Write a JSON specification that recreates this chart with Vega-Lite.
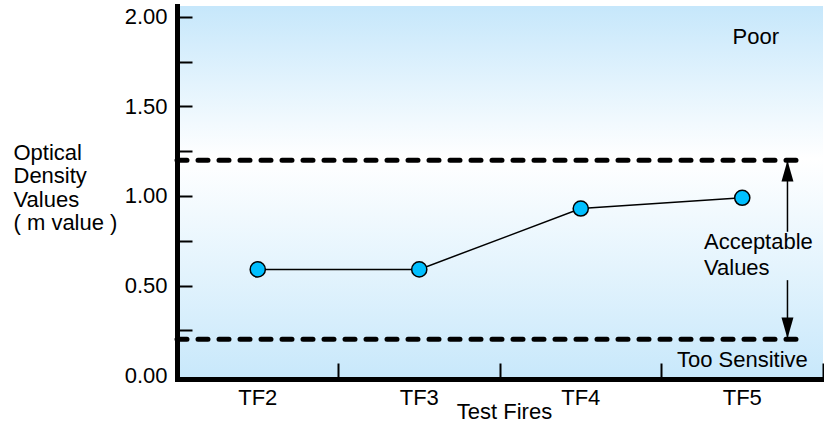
{
  "$schema": "https://vega.github.io/schema/vega-lite/v6.json",
  "width": 646,
  "height": 373,
  "autosize": "none",
  "padding": {"left": 177, "top": 6, "right": 1, "bottom": 44},
  "background": "white",
  "config": {
    "view": {"stroke": null},
    "font": "Liberation Sans",
    "axis": {"labelFont": "Liberation Sans", "titleFont": "Liberation Sans", "labelColor": "black", "titleColor": "black", "grid": false}
  },
  "datasets": {
    "tests": [
      {"fire": "TF2", "m": 0.59},
      {"fire": "TF3", "m": 0.59},
      {"fire": "TF4", "m": 0.93},
      {"fire": "TF5", "m": 0.99}
    ]
  },
  "data": {"name": "tests"},
  "layer": [
    {
      "data": {"values": [{}]},
      "mark": {
        "type": "rect",
        "fill": {
          "gradient": "linear", "x1": 0, "y1": 0, "x2": 0, "y2": 1,
          "stops": [
            {"offset": 0, "color": "#c6e7fb"},
            {"offset": 0.41, "color": "#ffffff"},
            {"offset": 1, "color": "#c8e8fb"}
          ]
        }
      },
      "encoding": {
        "y": {"datum": 2.061, "type": "quantitative", "axis": null},
        "y2": {"datum": -0.022}
      }
    },
    {
      "data": {"values": [{"limit": 1.2}, {"limit": 0.2}]},
      "mark": {"type": "rule", "color": "black", "strokeWidth": 5, "strokeDash": [10, 11], "strokeCap": "round"},
      "encoding": {
        "x": {"datum": "TF2", "type": "nominal", "bandPosition": 0, "axis": null},
        "x2": {"datum": "TF5", "bandPosition": 0.9},
        "y": {"field": "limit", "type": "quantitative", "axis": null}
      }
    },
    {
      "mark": {"type": "line", "color": "black", "strokeWidth": 1.5},
      "encoding": {
        "x": {
          "field": "fire", "type": "nominal",
          "scale": {"type": "band", "paddingInner": 0, "paddingOuter": 0, "domain": ["TF2", "TF3", "TF4", "TF5"]},
          "axis": {"orient": "top", "offset": -373, "bandPosition": 1, "labels": false, "domain": false, "ticks": true, "tickSize": 16, "tickWidth": 2, "tickColor": "black", "title": null, "zindex": 1}
        },
        "y": {
          "field": "m", "type": "quantitative",
          "scale": {"domain": [-0.022, 2.061], "nice": false, "zero": false},
          "axis": {"orient": "right", "offset": -646, "values": [0.25, 0.5, 0.75, 1, 1.25, 1.5, 1.75, 2], "labels": false, "domain": false, "ticks": true, "tickSize": 15, "tickWidth": 2, "tickColor": "black", "title": null, "zindex": 1}
        }
      }
    },
    {
      "mark": {"type": "circle", "fill": "#00bfff", "stroke": "black", "strokeWidth": 1.5, "size": 230, "opacity": 1},
      "encoding": {
        "x": {
          "field": "fire", "type": "nominal",
          "axis": {"orient": "bottom", "ticks": false, "labelPadding": 8, "labelFontSize": 22, "labelAngle": 0, "domainColor": "black", "domainWidth": 5, "domainCap": "square", "title": "Test Fires", "titleFontSize": 22, "titleFontWeight": "normal", "titleX": 327, "titleY": 39.5, "titleBaseline": "alphabetic", "titleAlign": "center", "zindex": 1}
        },
        "y": {
          "field": "m", "type": "quantitative",
          "axis": {"orient": "left", "values": [0, 0.5, 1, 1.5, 2], "format": ".2f", "ticks": false, "labelPadding": 10, "labelFontSize": 22, "domainColor": "black", "domainWidth": 5, "domainCap": "square", "title": ["Optical", "Density", "Values", "( m value )"], "titleAngle": 0, "titleAlign": "left", "titleBaseline": "alphabetic", "titleX": -164, "titleY": 153, "titleFontSize": 22, "titleFontWeight": "normal", "titleLineHeight": 23.6, "zindex": 1}
        }
      }
    },
    {
      "data": {"values": [{"from": 1.2, "to": 0.8}, {"from": 0.53, "to": 0.2}]},
      "mark": {"type": "rule", "color": "black", "strokeWidth": 1.5},
      "encoding": {
        "x": {"datum": "TF5", "type": "nominal", "bandPosition": 0.78, "axis": null},
        "y": {"field": "from", "type": "quantitative", "axis": null},
        "y2": {"field": "to"}
      }
    },
    {
      "data": {"values": [{}]},
      "mark": {"type": "point", "shape": "M0,-1L0.57,1L-0.57,1Z", "filled": true, "color": "black", "size": 441, "opacity": 1},
      "encoding": {
        "x": {"datum": "TF5", "type": "nominal", "bandPosition": 0.78, "axis": null},
        "y": {"datum": 1.14, "type": "quantitative", "axis": null}
      }
    },
    {
      "data": {"values": [{}]},
      "mark": {"type": "point", "shape": "M0,1L0.57,-1L-0.57,-1Z", "filled": true, "color": "black", "size": 441, "opacity": 1},
      "encoding": {
        "x": {"datum": "TF5", "type": "nominal", "bandPosition": 0.78, "axis": null},
        "y": {"datum": 0.263, "type": "quantitative", "axis": null}
      }
    },
    {
      "data": {"values": [{"note": "Poor", "at": 0.44, "level": 1.847}]},
      "mark": {"type": "text", "align": "left", "baseline": "alphabetic", "fontSize": 22, "color": "black"},
      "encoding": {
        "x": {"datum": "TF5", "type": "nominal", "bandPosition": 0.44, "axis": null},
        "y": {"field": "level", "type": "quantitative", "axis": null},
        "text": {"field": "note"}
      }
    },
    {
      "data": {"values": [{"note": "Too Sensitive", "level": 0.045}]},
      "mark": {"type": "text", "align": "left", "baseline": "alphabetic", "fontSize": 22, "color": "black"},
      "encoding": {
        "x": {"datum": "TF5", "type": "nominal", "bandPosition": 0.096, "axis": null},
        "y": {"field": "level", "type": "quantitative", "axis": null},
        "text": {"field": "note"}
      }
    },
    {
      "data": {"values": [{"note": "Acceptable\nValues", "level": 0.702}]},
      "mark": {"type": "text", "align": "left", "baseline": "alphabetic", "fontSize": 22, "color": "black", "lineBreak": "\n", "lineHeight": 26},
      "encoding": {
        "x": {"datum": "TF5", "type": "nominal", "bandPosition": 0.263, "axis": null},
        "y": {"field": "level", "type": "quantitative", "axis": null},
        "text": {"field": "note"}
      }
    }
  ],
  "resolve": {"axis": {"x": "independent", "y": "independent"}}
}
